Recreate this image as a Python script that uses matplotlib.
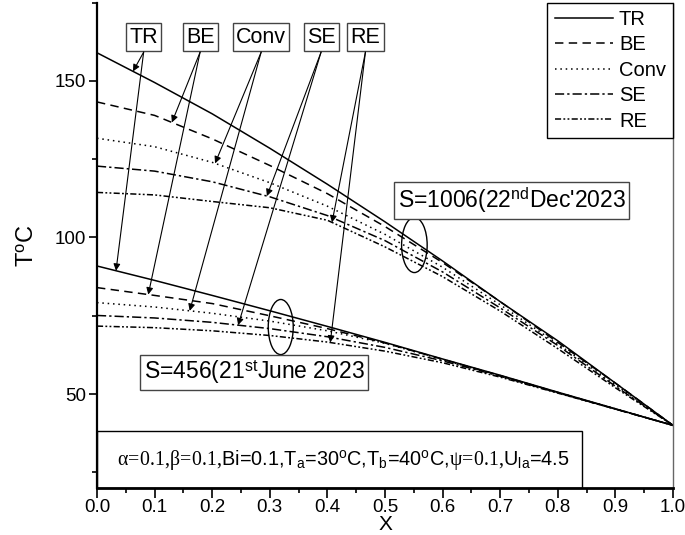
import matplotlib
matplotlib.use('Agg')
import numpy as np
import matplotlib.pyplot as plt
from matplotlib.patches import Ellipse, Rectangle
from matplotlib.ticker import MultipleLocator

plt.rcParams['font.family'] = ['Liberation Sans', 'DejaVu Sans']
plt.rcParams['mathtext.fontset'] = 'custom'
plt.rcParams['mathtext.rm'] = 'Liberation Serif'
plt.rcParams['mathtext.it'] = 'Liberation Serif:italic'
plt.rcParams['mathtext.sf'] = 'Liberation Sans'

x = [0.0, 0.1, 0.2, 0.3, 0.4, 0.5, 0.6, 0.7, 0.8, 0.9, 1.0]

# S = 1006 (22nd Dec 2023)
tr_dec = [159.0, 149.5, 139.5, 128.5, 117.0, 105.0, 92.5, 79.5, 67.0, 53.5, 40.0]
be_dec = [143.3, 139.0, 131.5, 123.0, 114.0, 103.5, 92.0, 79.5, 66.5, 53.5, 40.0]
conv_dec = [131.7, 129.0, 124.0, 117.5, 110.0, 101.0, 90.5, 78.5, 66.0, 53.0, 40.0]
se_dec = [122.8, 121.2, 117.8, 113.0, 107.0, 99.0, 89.0, 77.5, 65.5, 52.5, 40.0]
re_dec = [114.4, 113.6, 111.5, 109.5, 105.5, 97.0, 87.5, 76.5, 64.5, 52.0, 40.0]

# S = 456 (21st June 2023)
tr_jun = [90.9, 86.3, 81.5, 76.6, 71.6, 66.5, 61.2, 56.0, 50.6, 45.3, 40.0]
be_jun = [84.0, 81.5, 78.9, 75.0, 70.9, 66.3, 61.1, 55.9, 50.5, 45.2, 40.0]
conv_jun = [79.2, 77.8, 75.8, 73.3, 70.2, 66.2, 61.0, 55.8, 50.5, 45.3, 40.0]
se_jun = [75.1, 74.3, 72.9, 70.9, 68.3, 64.9, 60.6, 55.7, 50.4, 45.2, 40.0]
re_jun = [71.7, 71.2, 70.2, 68.7, 66.6, 63.7, 60.0, 55.4, 50.3, 45.2, 40.0]

labels = ['TR', 'BE', 'Conv', 'SE', 'RE']
styles = ['-', (0, (5.5, 3.5)), (0, (1, 2.5)), (0, (6, 2, 1.5, 2)), (0, (4, 1.5, 1.2, 1.5, 1.2, 1.5))]

# where the labelled arrows point on each curve
label_x = [0.081, 0.179, 0.285, 0.389, 0.466]
tip_x_dec = [0.0625, 0.130, 0.205, 0.295, 0.408]
tip_x_jun = [0.033, 0.089, 0.161, 0.245, 0.405]

dec = [tr_dec, be_dec, conv_dec, se_dec, re_dec]
jun = [tr_jun, be_jun, conv_jun, se_jun, re_jun]

fig = plt.figure(figsize=(6.85, 5.35), dpi=100)
ax = fig.add_axes([0.1416, 0.0879, 0.8409, 0.9071])

handles = []
for lab, ls, yd, yj in zip(labels, styles, dec, jun):
    h, = ax.plot(x, yd, color='black', lw=1.1, linestyle=ls, label=lab)
    ax.plot(x, yj, color='black', lw=1.1, linestyle=ls)
    handles.append(h)

ax.set_xlim(0, 1)
ax.set_ylim(20, 175)
ax.xaxis.set_major_locator(MultipleLocator(0.1))
ax.xaxis.set_minor_locator(MultipleLocator(0.05))
ax.yaxis.set_major_locator(MultipleLocator(50))
ax.yaxis.set_minor_locator(MultipleLocator(25))
ax.xaxis.set_major_formatter(matplotlib.ticker.FormatStrFormatter('%.1f'))
ax.tick_params(axis='both', which='major', direction='out', labelsize=13.5, width=1.2, pad=2)
ax.tick_params(axis='x', which='major', length=7, pad=1)
ax.tick_params(axis='y', which='major', length=6)
ax.tick_params(axis='both', which='minor', direction='out', length=3.5, width=1.2)
ax.spines['top'].set_visible(False)
ax.spines['bottom'].set_linewidth(2)
ax.spines['left'].set_linewidth(1.6)
ax.spines['right'].set_linewidth(1)
ax.spines['right'].set_color('#666666')

ax.set_xlabel('X', fontsize=15, labelpad=-1)
ax.set_ylabel('T$^\\mathsf{o}$C', fontsize=17, labelpad=12)

# labelled arrows
for lab, lx, td, tj, yd, yj in zip(labels, label_x, tip_x_dec, tip_x_jun, dec, jun):
    ax.text(lx, 164, lab, fontsize=15.5, ha='center', va='center',
            bbox=dict(boxstyle='square,pad=0.15', fc='white', ec='#444444', lw=1))
    for tx, ys in ((td, yd), (tj, yj)):
        ax.annotate('', xy=(tx, np.interp(tx, x, ys)), xytext=(lx, 159.2),
                    arrowprops=dict(arrowstyle='-|>', color='black', lw=0.8,
                                    mutation_scale=10, shrinkA=0, shrinkB=0))

# ellipses and date boxes
ax.add_patch(Ellipse((0.551, 97.6), 0.0444, 17.6, fill=False, ec='black', lw=1))
ax.add_patch(Ellipse((0.319, 71.4), 0.0434, 17.6, fill=False, ec='black', lw=1))
ax.text(0.72, 111.8, "S=1006(22$^\\mathsf{nd}$Dec'2023", fontsize=16.5, ha='center', va='center',
        bbox=dict(boxstyle='square,pad=0.15', fc='white', ec='#444444', lw=1))
ax.text(0.273, 57.0, 'S=456(21$^\\mathsf{st}$June 2023', fontsize=16.5, ha='center', va='center',
        bbox=dict(boxstyle='square,pad=0.15', fc='white', ec='#444444', lw=1))

# parameter box
ax.add_patch(Rectangle((0, 0), 0.842, 0.117, transform=ax.transAxes, fill=False, ec='black', lw=1))
ax.text(0.428, 0.0585,
        r'$\mathrm{\alpha}\!=\!0.1{,}\mathrm{\beta}\!=\!0.1{,}$Bi=0.1,T$_\mathsf{a}$=30$^\mathsf{o}$C,'
        r'T$_\mathsf{b}$=40$^\mathsf{o}$C,$\mathrm{\psi}\!=\!0.1{,}$U$_\mathsf{la}$=4.5',
        transform=ax.transAxes, fontsize=14.3, ha='center', va='center')

leg = ax.legend(handles=handles, loc='upper right', bbox_to_anchor=(1, 1), borderaxespad=0,
                fontsize=14.5, handlelength=2.9, handletextpad=0.3, labelspacing=0.32,
                borderpad=0.35, fancybox=False, framealpha=1, edgecolor='black')
leg.get_frame().set_linewidth(1)

fig.savefig('out.png', dpi=100)
